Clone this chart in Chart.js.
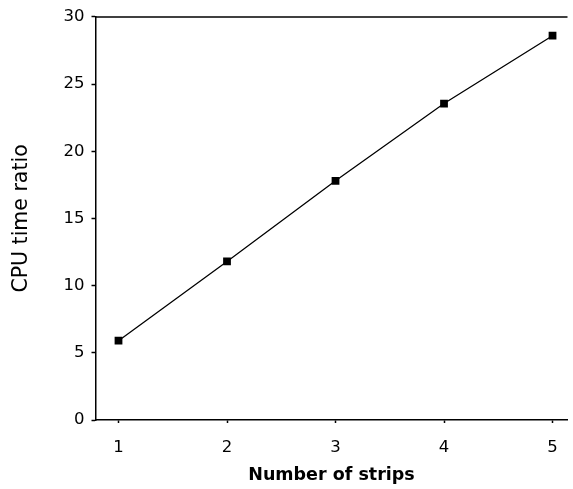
<!DOCTYPE html>
<html>
<head>
<meta charset="utf-8">
<script src="https://cdn.jsdelivr.net/npm/chart.js@4"></script>
<style>
  html, body { margin: 0; padding: 0; background: #fff; }
  #wrap { width: 573px; height: 489px; }
</style>
</head>
<body>
<div id="wrap"><canvas id="cpuChart"></canvas></div>
<script>
// Number of strips vs CPU time ratio
const strips = [1, 2, 3, 4, 5];
const cpuRatio = [5.9, 11.8, 17.8, 23.55, 28.6];
const yTicks = [0, 5, 10, 15, 20, 25, 30];

const FONT = 'DejaVu Sans, Liberation Sans, Arial';

// draws the top frame line of the plot area
const topLine = {
  id: 'topLine',
  afterDraw(chart) {
    const { ctx, chartArea } = chart;
    ctx.save();
    ctx.strokeStyle = '#000';
    ctx.lineWidth = 1.5;
    ctx.beginPath();
    ctx.moveTo(chartArea.left, chartArea.top);
    ctx.lineTo(chartArea.right, chartArea.top);
    ctx.stroke();
    ctx.restore();
  }
};

const ctx = document.getElementById('cpuChart').getContext('2d');
new Chart(ctx, {
  type: 'line',
  data: {
    datasets: [{
      data: strips.map((s, i) => ({ x: s, y: cpuRatio[i] })),
      borderColor: '#000',
      borderWidth: 1.3,
      pointStyle: 'rect',
      pointRadius: 5.5,
      pointBorderWidth: 0,
      pointBackgroundColor: '#000',
      fill: false,
      tension: 0
    }]
  },
  options: {
    responsive: true,
    maintainAspectRatio: false,
    animation: false,
    layout: { padding: { top: 14, right: 0, bottom: 0, left: 0 } },
    plugins: {
      legend: { display: false },
      tooltip: { enabled: false }
    },
    scales: {
      x: {
        type: 'linear',
        min: 0.788,
        max: 5.138,
        afterFit: scale => {
          scale.height = 69;
          scale.paddingRight = 0;
          scale.paddingLeft = 0;
        },
        afterBuildTicks: scale => { scale.ticks = strips.map(v => ({ value: v })); },
        grid: { drawOnChartArea: false, tickLength: 3, color: '#000', tickWidth: 1.5 },
        border: { color: '#000', width: 1.5 },
        ticks: {
          color: '#000',
          padding: 15,
          font: { family: FONT, size: 16.5 }
        },
        title: {
          display: true,
          text: 'Number of strips',
          color: '#000',
          padding: { top: 0, bottom: 3.5 },
          font: { family: FONT, size: 17.5, weight: 'bold' }
        }
      },
      y: {
        min: 0,
        max: 30,
        afterFit: scale => {
          scale.width = 95.5;
          scale.paddingLeft = 0;
          scale.paddingRight = 0;
        },
        afterBuildTicks: scale => { scale.ticks = yTicks.map(v => ({ value: v })); },
        grid: { drawOnChartArea: false, tickLength: 4, color: '#000', tickWidth: 1.5 },
        border: { color: '#000', width: 1.5 },
        ticks: {
          color: '#000',
          padding: 7,
          font: { family: FONT, size: 16.5 }
        },
        title: {
          display: true,
          text: 'CPU time ratio',
          color: '#000',
          padding: { top: 9, bottom: 0 },
          font: { family: FONT, size: 20.5 }
        }
      }
    }
  },
  plugins: [topLine]
});
</script>
</body>
</html>
